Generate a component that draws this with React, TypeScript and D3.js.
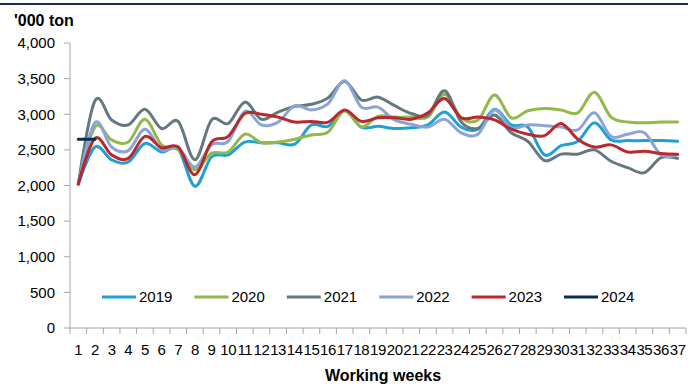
import React from "react";
import * as d3 from "d3";

const weeks: number[] = Array.from({ length: 37 }, (_, i) => i + 1);
const years = ["2019", "2020", "2021", "2022", "2023", "2024"];
const colors = ["#1e9fd6", "#93b84c", "#647880", "#8aa4d3", "#b8282c", "#0d2d4f"];

const s2019 = [2020, 2540, 2360, 2330, 2590, 2470, 2510, 1990, 2400, 2430, 2610, 2600, 2600, 2580, 2850, 2830, 3050, 2820, 2830, 2800, 2810, 2850, 3030, 2820, 2790, 3070, 2850, 2820, 2430, 2560, 2620, 2880, 2640, 2630, 2630, 2630, 2620];
const s2020 = [2020, 2820, 2640, 2610, 2930, 2570, 2500, 2220, 2450, 2470, 2720, 2600, 2610, 2650, 2710, 2750, 3050, 2820, 2970, 2960, 2960, 2960, 3280, 2950, 2920, 3270, 2950, 3050, 3080, 3060, 3020, 3310, 2960, 2890, 2880, 2890, 2890];
const s2021 = [2020, 3190, 2920, 2850, 3070, 2800, 2900, 2360, 2920, 2870, 3170, 2930, 3030, 3110, 3140, 3230, 3460, 3200, 3240, 3120, 3010, 2990, 3330, 2890, 2800, 2990, 2740, 2620, 2350, 2440, 2440, 2500, 2340, 2250, 2180, 2390, 2380];
const s2022 = [2020, 2880, 2540, 2490, 2790, 2500, 2530, 2260, 2570, 2620, 3040, 2850, 2890, 3120, 3060, 3150, 3470, 3100, 3100, 2920, 2860, 2820, 2930, 2740, 2720, 3060, 2810, 2850, 2840, 2820, 2780, 3020, 2690, 2720, 2740, 2430, 2430];
const s2023 = [2020, 2660, 2430, 2380, 2690, 2530, 2540, 2150, 2610, 2690, 3010, 3000, 2960, 2890, 2900, 2890, 3060, 2900, 2950, 2950, 2930, 3020, 3220, 2950, 2960, 2920, 2790, 2720, 2700, 2870, 2650, 2540, 2570, 2470, 2480, 2450, 2440];
const s2024 = [2650, 2650];
const series = [s2019, s2020, s2021, s2022, s2023, s2024];
const yTicks = [0, 500, 1000, 1500, 2000, 2500, 3000, 3500, 4000];

const W = 688;
const H = 384;
const font = "'Liberation Sans', Arial, sans-serif";

export default function App() {
  const x = d3.scaleBand<number>().domain(weeks).range([70, 686]);
  const cx = (w: number) => (x(w) as number) + x.bandwidth() / 2;
  const y = d3.scaleLinear().domain([0, 4000]).range([328, 43]);
  const line = d3
    .line<number>()
    .x((_, i) => cx(weeks[i]))
    .y((d) => y(d))
    .curve(d3.curveCardinal.tension(0));
  const fmt = d3.format(",");
  const axisColor = "#a6a6a6";
  const legendStep = 92.4;

  return (
    <svg width={W} height={H} style={{ position: "absolute", left: 0, top: 0, background: "#fff" }} fontFamily={font}>
      <line x1={0} x2={W} y1={4} y2={4} stroke="#1c2b55" strokeWidth={2} />
      <text x={14} y={26} fontSize={16} fontWeight="bold" fill="#000">'000 ton</text>

      {/* Y axis */}
      <line x1={70} x2={70} y1={y(4000)} y2={y(0)} stroke={axisColor} strokeWidth={1} />
      {yTicks.map((t) => (
        <g key={t}>
          <line x1={64} x2={70} y1={y(t)} y2={y(t)} stroke={axisColor} />
          <text x={55} y={y(t)} dy="0.35em" textAnchor="end" fontSize={15} fill="#000">{fmt(t)}</text>
        </g>
      ))}

      {/* X axis */}
      <line x1={70} x2={686} y1={y(0)} y2={y(0)} stroke={axisColor} />
      {weeks.map((w) => (
        <line key={"t" + w} x1={x(w) as number} x2={x(w) as number} y1={y(0)} y2={y(0) + 6} stroke={axisColor} />
      ))}
      <line x1={686} x2={686} y1={y(0)} y2={y(0) + 6} stroke={axisColor} />
      {weeks.map((w) => (
        <text key={"l" + w} x={cx(w)} y={355} textAnchor="middle" fontSize={15} letterSpacing={-0.4} fill="#000">{w}</text>
      ))}
      <text x={383} y={381} textAnchor="middle" fontSize={16} fontWeight="bold" fill="#000">Working weeks</text>

      {/* Series */}
      {series.map((s, i) => (
        <path key={years[i]} d={line(s) || ""} fill="none" stroke={colors[i]} strokeWidth={3} strokeLinejoin="round" strokeLinecap="round" />
      ))}

      {/* Legend */}
      {years.map((yr, i) => (
        <g key={"lg" + yr} transform={`translate(${102 + i * legendStep},297)`}>
          <line x1={0} x2={34} y1={0} y2={0} stroke={colors[i]} strokeWidth={3} />
          <text x={37} y={0} dy="0.35em" fontSize={15} fill="#000">{yr}</text>
        </g>
      ))}
    </svg>
  );
}
